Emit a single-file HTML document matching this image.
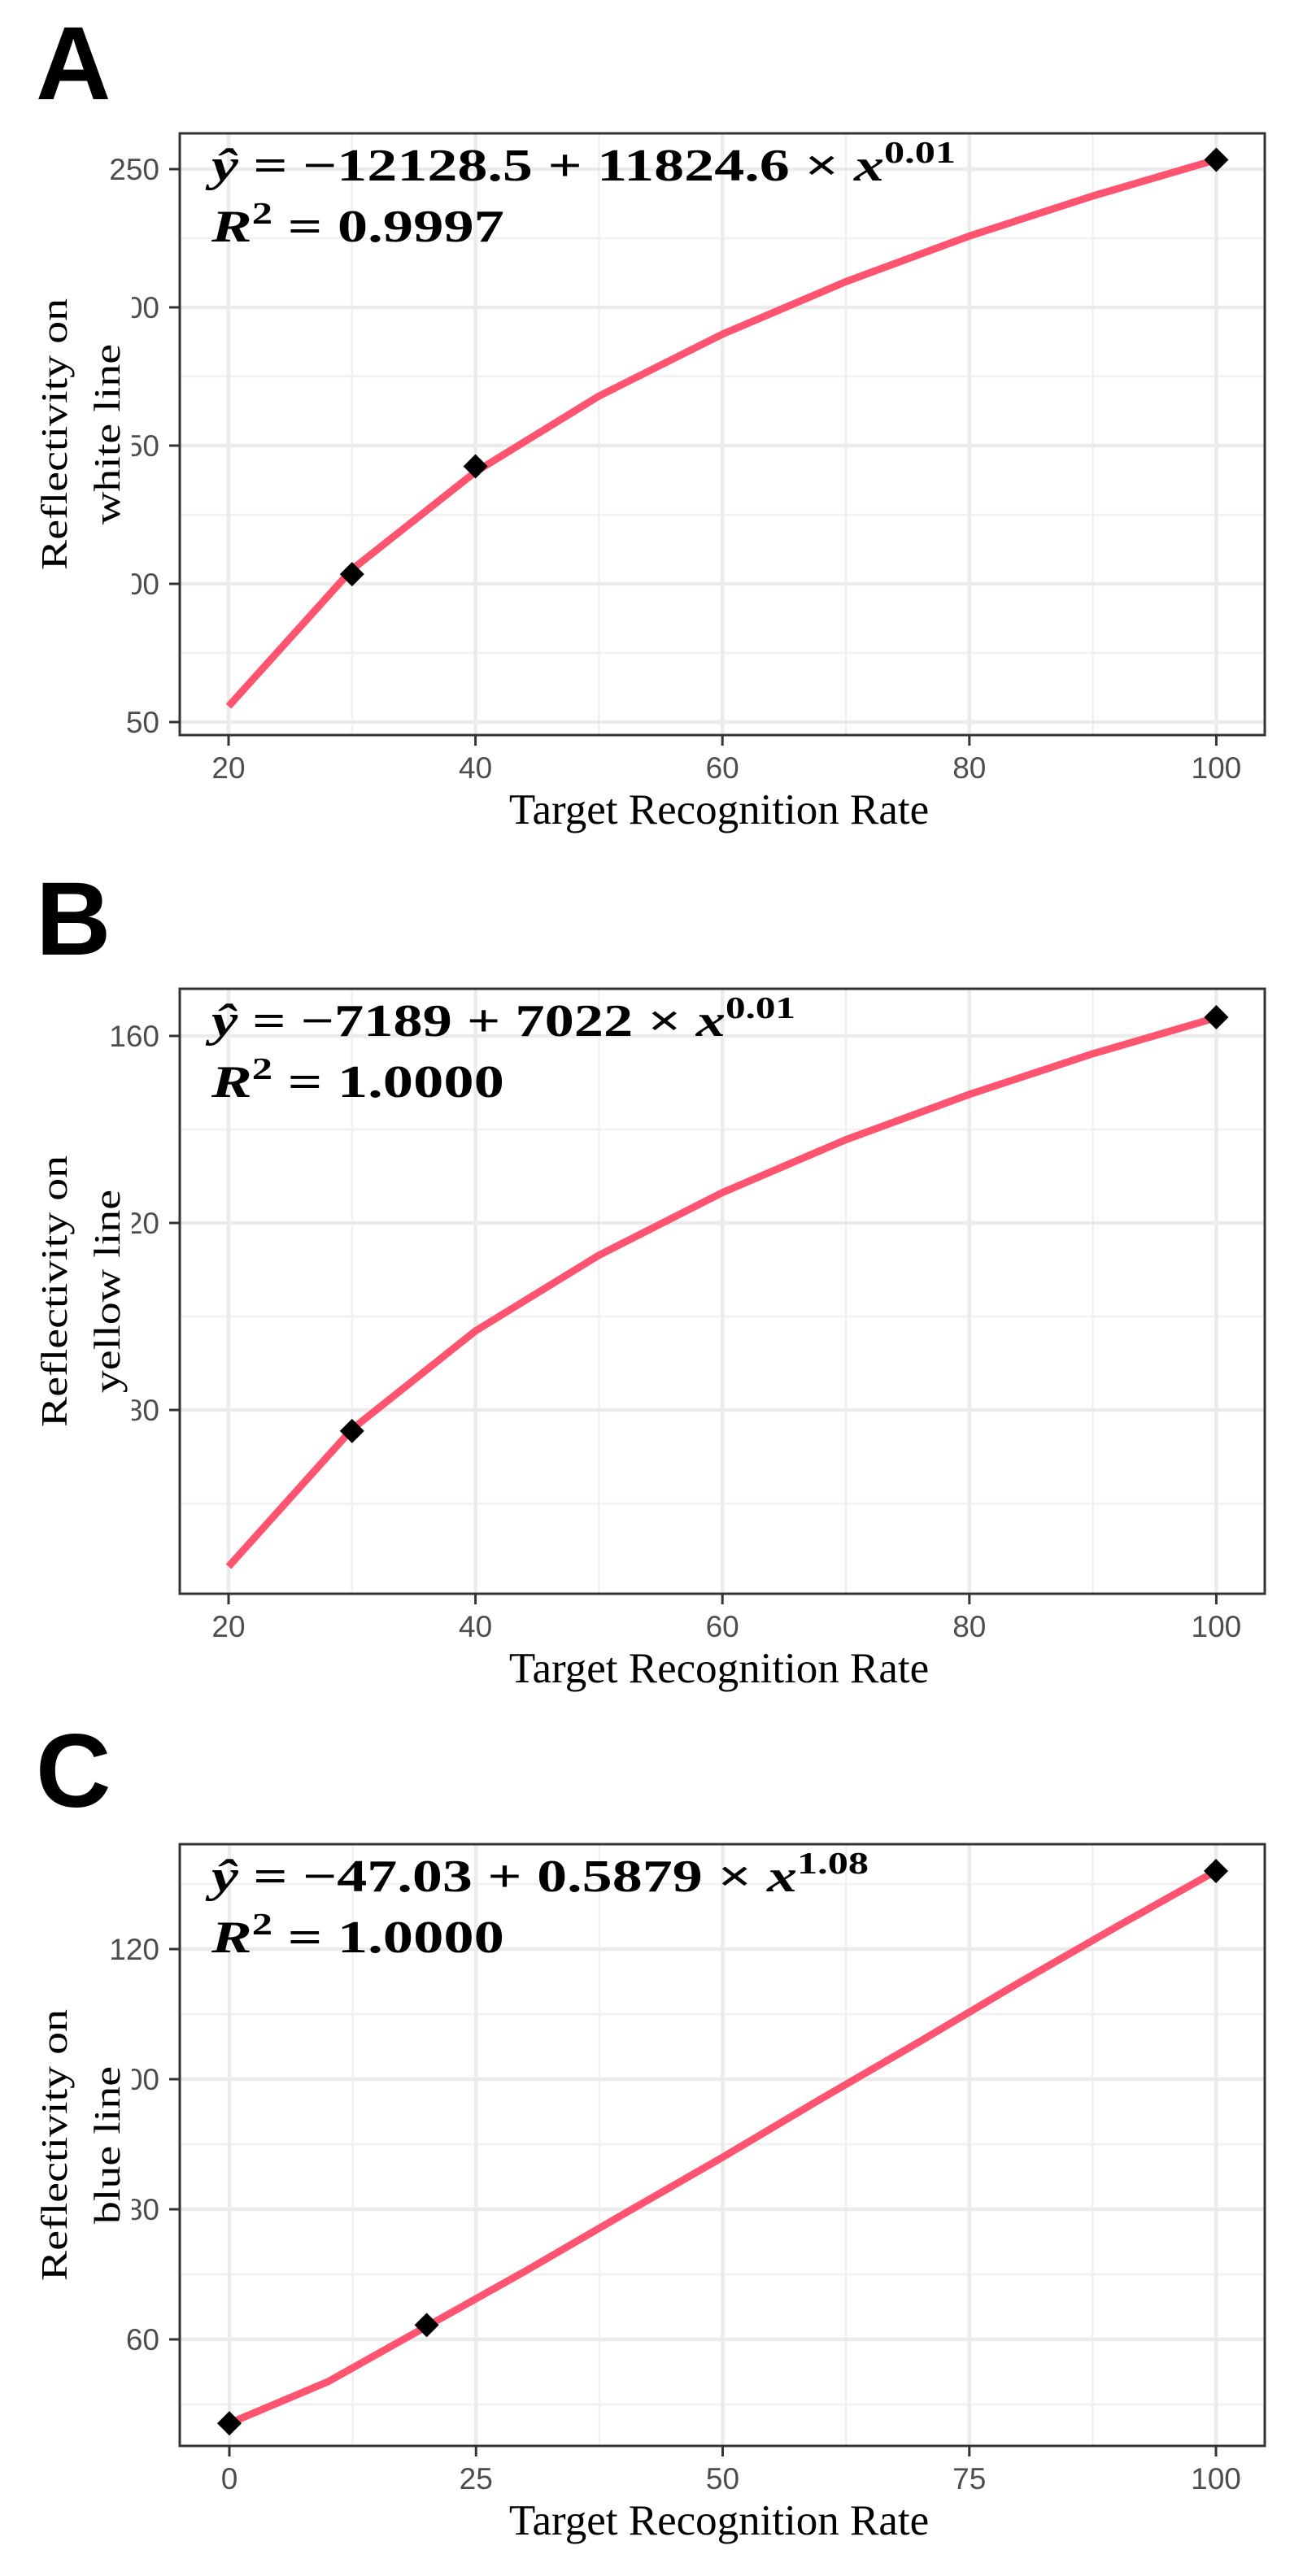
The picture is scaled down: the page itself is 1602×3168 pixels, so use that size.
<!DOCTYPE html>
<html><head><meta charset="utf-8">
<style>
html,body{margin:0;padding:0;background:#fff;}
svg{display:block;}
</style></head>
<body>
<svg id="fig" width="1602" height="3168" viewBox="0 0 1602 3168" xmlns="http://www.w3.org/2000/svg"></svg>
<script>
// ---------- Panel A data ----------
const aX = [20,30,40,50,60,70,80,90,100];
const aFit = [55.7,105.2,140.5,167.9,190.3,209.3,225.8,240.3,253.4];
const aPtsX = [30,40,100];
const aPtsY = [103.5,142.5,253.4];
const aXTicks = [20,40,60,80,100];
const aXMinor = [30,50,70,90];
const aYTicks = [50,100,150,200,250];
const aYMinor = [75,125,175,225];
// ---------- Panel B data ----------
const bX = [20,30,40,50,60,70,80,90,100];
const bFit = [46.5,75.9,96.9,113.1,126.5,137.8,147.5,156.2,163.9];
const bPtsX = [30,100];
const bPtsY = [75.5,164.0];
const bXTicks = [20,40,60,80,100];
const bXMinor = [30,50,70,90];
const bYTicks = [80,120,160];
const bYMinor = [60,100,140];
// ---------- Panel C data ----------
const cX = [0,10,20,30,40,50,60,70,80,90,100];
const cFit = [47.1,53.5,62.0,70.5,79.3,88.0,97.0,105.8,114.8,123.5,132.0];
const cPtsX = [0,20,100];
const cPtsY = [47.1,62.2,132.0];
const cXTicks = [0,25,50,75,100];
const cXMinor = [12.5,37.5,62.5,87.5];
const cYTicks = [60,80,100,120];
const cYMinor = [50,70,90,110,130];

const NS = 'http://www.w3.org/2000/svg';
const svg = document.getElementById('fig');
function mk(tag, attrs, parent){
  const e = document.createElementNS(NS, tag);
  for (const k in attrs) e.setAttribute(k, attrs[k]);
  (parent||svg).appendChild(e);
  return e;
}

function panel(cfg){
  const g = mk('g', {});
  
  
  const L = 221, R = 1555, T = cfg.top, B = cfg.bottom;
  const sx = v => cfg.x0px + (v - cfg.x0) * cfg.xs;
  const sy = v => cfg.y0px - (v - cfg.y0) * cfg.ys;

  const lt = mk('text', {x: 44, y: cfg.letterY, 'font-family': '"Liberation Sans", sans-serif', 'font-weight': 'bold', 'font-size': 128, fill: '#000'}, g);
  lt.textContent = cfg.letter;
  
  

  cfg.yMinor.forEach(v => {
    const l = mk('line', {x1: L, x2: R, y1: sy(v), y2: sy(v), stroke: '#f0f0f0', 'stroke-width': 2.5}, g);
    
    
  });
  cfg.xMinor.forEach(v => {
    const l = mk('line', {x1: sx(v), x2: sx(v), y1: T, y2: B, stroke: '#f0f0f0', 'stroke-width': 2.5}, g);
    
    
  });
  cfg.yTicks.forEach(v => {
    const l = mk('line', {x1: L, x2: R, y1: sy(v), y2: sy(v), stroke: '#ebebeb', 'stroke-width': 4.5}, g);
    
    
  });
  cfg.xTicks.forEach(v => {
    const l = mk('line', {x1: sx(v), x2: sx(v), y1: T, y2: B, stroke: '#ebebeb', 'stroke-width': 4.5}, g);
    
    
  });

  const d = cfg.lx.map((v,i) => (i ? 'L' : 'M') + sx(v).toFixed(1) + ',' + sy(cfg.ly[i]).toFixed(1)).join(' ');
  const p = mk('path', {d: d, fill: 'none', stroke: '#ff5470', 'stroke-width': 9, 'stroke-linejoin': 'round'}, g);
  
  

  cfg.px.forEach((v,i) => {
    const cx = sx(v), cy = sy(cfg.py[i]), r = 15;
    const pt = mk('polygon', {points: `${cx},${cy-r} ${cx+r},${cy} ${cx},${cy+r} ${cx-r},${cy}`, fill: '#000'}, g);
    
    
  });

  const bx = mk('rect', {x: L, y: T, width: R - L, height: B - T, fill: 'none', stroke: '#333', 'stroke-width': 3}, g);
  
  

  cfg.yTicks.forEach(v => {
    const t = mk('line', {x1: 208, x2: L, y1: sy(v), y2: sy(v), stroke: '#333', 'stroke-width': 3}, g);
    
    
    const tx = mk('text', {x: 196, y: sy(v) + 13, 'text-anchor': 'end', 'font-family': '"Liberation Sans", sans-serif', 'font-size': 37, fill: '#4d4d4d'}, g);
    tx.textContent = String(v);
    
    
  });
  cfg.xTicks.forEach(v => {
    const t = mk('line', {x1: sx(v), x2: sx(v), y1: B, y2: B + 13, stroke: '#333', 'stroke-width': 3}, g);
    
    
    const tx = mk('text', {x: sx(v), y: B + 53, 'text-anchor': 'middle', 'font-family': '"Liberation Sans", sans-serif', 'font-size': 37, fill: '#4d4d4d'}, g);
    tx.textContent = String(v);
    
    
  });

  const cy = (T + B) / 2;
  const wb = mk('rect', {x: 0, y: cy - 210, width: 162, height: 420, fill: '#fff'}, g);
  
  
  const yt = mk('text', {transform: `translate(0,${cy}) rotate(-90) scale(1,0.82)`, 'text-anchor': 'middle', 'font-family': '"Liberation Serif", serif', 'font-size': 56, fill: '#000'}, g);
  
  
  const t1 = mk('tspan', {x: 0, y: 100}, yt); t1.textContent = 'Reflectivity on';
  const t2 = mk('tspan', {x: 0, y: 179}, yt); t2.textContent = cfg.ytitle2;

  const xt = mk('text', {x: 884, y: B + 109, 'text-anchor': 'middle', 'font-family': '"Liberation Serif", serif', 'font-size': 53, fill: '#000'}, g);
  xt.textContent = 'Target Recognition Rate';
  
  

  const eq = mk('text', {x: 260, y: T + 58, 'font-family': '"Liberation Serif", serif', 'font-weight': 'bold', 'font-size': 56, fill: '#000', textLength: cfg.eqLen, lengthAdjust: 'spacingAndGlyphs'}, g);
  
  
  const e1 = mk('tspan', {'font-style': 'italic'}, eq); e1.textContent = 'ŷ';
  const e2 = mk('tspan', {}, eq); e2.textContent = ' = −' + cfg.a + ' + ' + cfg.b + ' × ';
  const e3 = mk('tspan', {'font-style': 'italic'}, eq); e3.textContent = 'x';
  const e4 = mk('tspan', {'font-size': 38, dy: -22}, eq); e4.textContent = cfg.p;

  const r2 = mk('text', {x: 260, y: T + 133, 'font-family': '"Liberation Serif", serif', 'font-weight': 'bold', 'font-size': 56, fill: '#000', textLength: 360, lengthAdjust: 'spacingAndGlyphs'}, g);
  
  
  const r1 = mk('tspan', {'font-style': 'italic'}, r2); r1.textContent = 'R';
  const r2s = mk('tspan', {'font-size': 38, dy: -22}, r2); r2s.textContent = '2';
  const r3 = mk('tspan', {dy: 22}, r2); r3.textContent = ' = ' + cfg.r2;
}

panel({name: 'panel-a-white-line', letter: 'A', letterY: 122, top: 164, bottom: 904,
  x0: 20, x0px: 281, xs: 15.18, y0: 250, y0px: 208, ys: 3.4,
  lx: aX, ly: aFit, px: aPtsX, py: aPtsY, xTicks: aXTicks, xMinor: aXMinor, yTicks: aYTicks, yMinor: aYMinor,
  ytitle2: 'white line', a: '12128.5', b: '11824.6', p: '0.01', eqLen: 915, r2: '0.9997'});

panel({name: 'panel-b-yellow-line', letter: 'B', letterY: 1174, top: 1216, bottom: 1960,
  x0: 20, x0px: 281, xs: 15.18, y0: 160, y0px: 1274, ys: 5.75,
  lx: bX, ly: bFit, px: bPtsX, py: bPtsY, xTicks: bXTicks, xMinor: bXMinor, yTicks: bYTicks, yMinor: bYMinor,
  ytitle2: 'yellow line', a: '7189', b: '7022', p: '0.01', eqLen: 718, r2: '1.0000'});

panel({name: 'panel-c-blue-line', letter: 'C', letterY: 2222, top: 2268, bottom: 3008,
  x0: 0, x0px: 282, xs: 12.13, y0: 120, y0px: 2397, ys: 8.0,
  lx: cX, ly: cFit, px: cPtsX, py: cPtsY, xTicks: cXTicks, xMinor: cXMinor, yTicks: cYTicks, yMinor: cYMinor,
  ytitle2: 'blue line', a: '47.03', b: '0.5879', p: '1.08', eqLen: 808, r2: '1.0000'});
</script>
</body></html>
